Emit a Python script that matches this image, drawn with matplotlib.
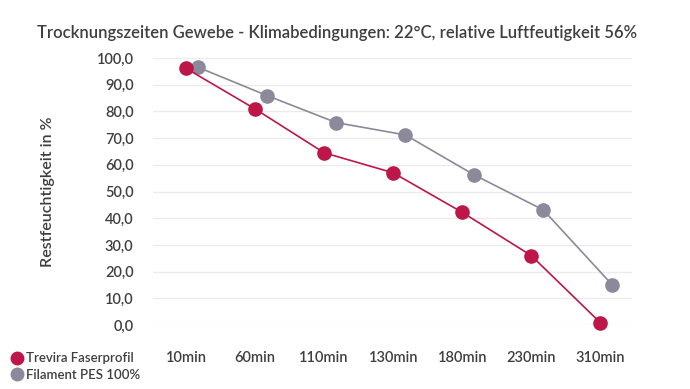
import numpy as np
import matplotlib.pyplot as plt
from matplotlib.lines import Line2D

# data
categories = ['10min', '60min', '110min', '130min', '180min', '230min', '310min']
trevira = [96.1, 80.9, 64.5, 57.0, 42.2, 26.0, 0.9]
filament = [96.5, 85.9, 75.8, 71.2, 56.2, 43.1, 15.0]
series_names = ['Trevira Faserprofil', 'Filament PES 100%']

RED = '#bd1649'
GREY = '#8b899a'
TXT = '#3f3f3f'

plt.rcParams['font.family'] = ['Lato', 'DejaVu Sans']

fig = plt.figure(figsize=(6.9, 3.89), dpi=100)
ax = fig.add_axes([153/690, 1-325/389, (632-153)/690, (325-58)/389])

x = np.arange(len(categories))
offset = 0.175  # grey series sits a bit to the right in the original
ax.plot(x, trevira, color=RED, lw=1.2, marker='o', ms=9.5, clip_on=False, zorder=3)
ax.plot(x + offset, filament, color=GREY, lw=1.2, marker='o', ms=9.5, clip_on=False, zorder=2)

ax.set_ylim(0, 100)
ax.set_xlim(-0.48, 6.46)
ax.set_yticks(np.arange(0, 101, 10))
ax.set_yticklabels(['{:.1f}'.format(v).replace('.', ',') for v in np.arange(0, 101, 10)])
ax.set_xticks(x)
ax.set_xticklabels(categories)
ax.tick_params(axis='y', length=0, pad=14, labelsize=10.5, labelcolor=TXT)
ax.tick_params(axis='x', length=0, pad=19, labelsize=10.5, labelcolor=TXT)
for lab in ax.get_xticklabels() + ax.get_yticklabels():
    lab.set_fontweight('semibold')
ax.grid(axis='y', color='#ebebeb', lw=1)
ax.set_axisbelow(True)
for s in ax.spines.values():
    s.set_visible(False)

ax.set_ylabel('Restfeuchtigkeit in %', fontsize=11.5, color=TXT, fontweight='semibold')
ax.yaxis.set_label_coords(-0.205, 0.5, transform=ax.transAxes)

fig.text(37/690, 1-33/389, 'Trocknungszeiten Gewebe - Klimabedingungen: 22°C, relative Luftfeutigkeit 56%',
         fontsize=12, color=TXT, fontweight='semibold', va='center', ha='left')

handles = [Line2D([], [], ls='', marker='o', ms=9, color=c) for c in (RED, GREY)]
fig.legend(handles, series_names, loc='upper left', bbox_to_anchor=(0.0, 1-343/389),
           frameon=False, handletextpad=0.1, labelspacing=0.35, handlelength=1.2,
           prop={'size': 9.5, 'weight': 'semibold'}, labelcolor=TXT, borderaxespad=0.3)

fig.savefig('out.png', dpi=100)
